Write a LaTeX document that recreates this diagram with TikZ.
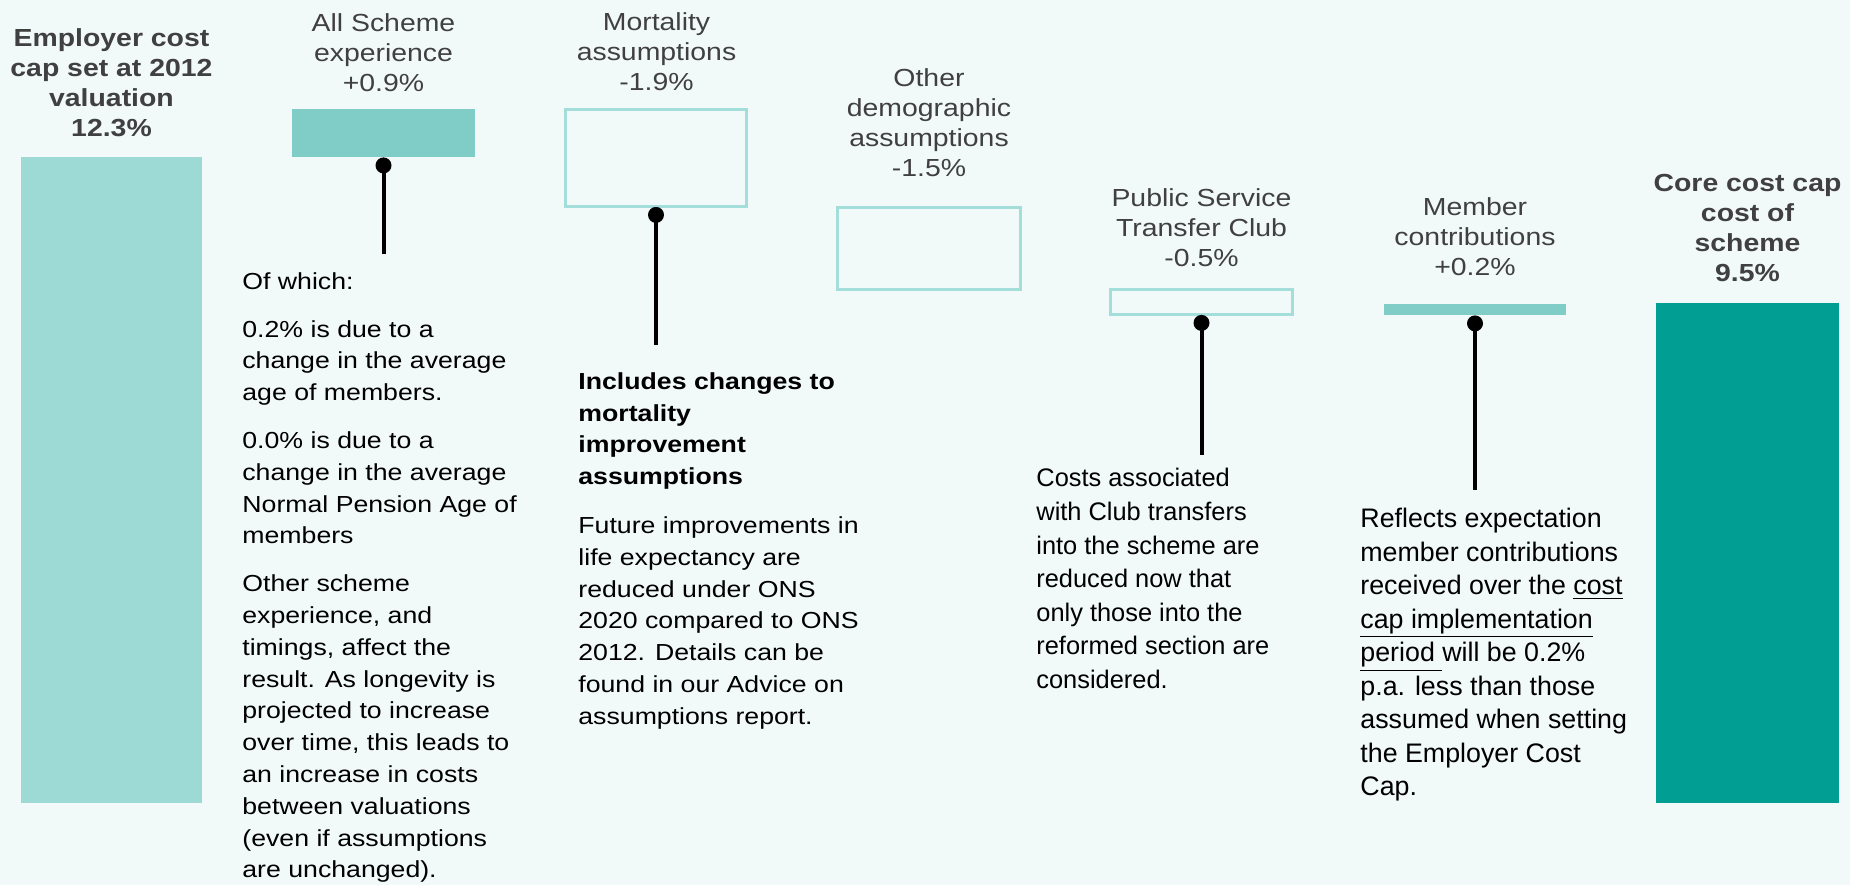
\documentclass[tikz,border=0pt]{standalone}
\usepackage{fontspec}
\setmainfont{Liberation Sans}[FakeStretch=1.15]
\newfontfamily\narrowfont{Liberation Sans}
\usetikzlibrary{positioning}

\definecolor{bgcol}{HTML}{F2FAF9}
\definecolor{capcol}{HTML}{9DDAD6}
\definecolor{stepcol}{HTML}{80CDC8}
\definecolor{edgecol}{HTML}{A3DEDA}
\definecolor{corecol}{HTML}{009E93}
\definecolor{titlecol}{HTML}{404040}

\tikzset{
  fullbar/.style={inner sep=0pt, outer sep=0pt, anchor=north west, draw=none},
  openbar/.style={inner sep=0pt, outer sep=0pt, anchor=north west, draw=edgecol, line width=1.65pt},
  pindot/.style={circle, fill=black, inner sep=0pt, minimum size=8pt},
  pinline/.style={line width=2pt},
  title/.style={align=center, inner sep=0pt, anchor=north, text=titlecol, font=\fontsize{12.35}{15}\selectfont},
  bigtitle/.style={title, font=\bfseries\fontsize{12.35}{15}\selectfont},
  note/.style={align=left, inner sep=0pt, anchor=north west, text=black, font=\fontsize{11.6}{15.9}\selectfont},
  narrownote/.style={note, font=\narrowfont\fontsize{12.7}{16.8}\selectfont}
}

\begin{document}
\begin{tikzpicture}[x=0.5pt,y=-0.5pt]
	\fill[bgcol] (0,0) rectangle (1850,885);
	\useasboundingbox (0,0) rectangle (1850,885);

	% bars
	\node[fullbar, fill=capcol, minimum width=90.5pt, minimum height=323pt] (ecc) at (21,157) {};
	\node[fullbar, fill=stepcol, minimum width=91.5pt, minimum height=24pt] (sch) at (292,109) {};
	\node[openbar, minimum width=90.5pt, minimum height=48.5pt] (mor) at (565.5,109.5) {};
	\node[openbar, minimum width=91.5pt, minimum height=41pt] (oth) at (837.5,207.5) {};
	\node[openbar, minimum width=91pt, minimum height=12.5pt] (pst) at (1110.5,289.5) {};
	\node[fullbar, fill=stepcol, minimum width=91pt, minimum height=5.5pt] (mem) at (1384,304) {};
	\node[fullbar, fill=corecol, minimum width=91.5pt, minimum height=250pt] (core) at (1656,303) {};

	% titles
	\node[bigtitle] (ecclab) at (111.5,28) {Employer cost\\cap set at 2012\\valuation\\12.3\%};
	\node[title] (schlab) at (383.5,13) {All Scheme\\experience\\+0.9\%};
	\node[title] (morlab) at (656.5,12) {Mortality\\assumptions\\-1.9\%};
	\node[title] (othlab) at (929,68) {Other\\demographic\\assumptions\\-1.5\%};
	\node[title] (pstlab) at (1201.5,188) {Public Service\\Transfer Club\\-0.5\%};
	\node[title] (memlab) at (1475,197) {Member\\contributions\\+0.2\%};
	\node[bigtitle] (corelab) at (1747.5,174) {Core cost cap\\cost of\\scheme\\9.5\%};

	% notes
	\node[note] (schtxt) at (242,272) {Of which:\\[8pt]
		0.2\% is due to a\\change in the average\\age of members.\\[8pt]
		0.0\% is due to a\\change in the average\\Normal Pension Age of\\members\\[8pt]
		Other scheme\\experience, and\\timings, affect the\\result. As longevity is\\projected to increase\\over time, this leads to\\an increase in costs\\between valuations\\(even if assumptions\\are unchanged).};
	\node[note] (mortxt) at (578,372) {\textbf{Includes changes to}\\\textbf{mortality}\\\textbf{improvement}\\\textbf{assumptions}\\[8.5pt]
		Future improvements in\\life expectancy are\\reduced under ONS\\2020 compared to ONS\\2012. Details can be\\found in our Advice on\\assumptions report.};
	\node[narrownote] (psttxt) at (1036,468) {Costs associated\\with Club transfers\\into the scheme are\\reduced now that\\only those into the\\reformed section are\\considered.};
	\node[narrownote, font=\narrowfont\fontsize{13.4}{16.75}\selectfont] (memtxt) at (1360,508) {Reflects expectation\\member contributions\\received over the \underline{cost}\\\underline{cap implementation}\\\underline{period }will be 0.2\%\\p.a. less than those\\assumed when setting\\the Employer Cost\\Cap.};

	% pins
	\node[pindot, below=0pt of sch] (schdot) {};
	\node[pindot, below=0pt of mor] (mordot) {};
	\node[pindot, below=0pt of pst] (pstdot) {};
	\node[pindot, below=0pt of mem] (memdot) {};

	\draw[pinline, shorten >=9pt] (schdot.center) -- (schdot |- schtxt.north);
	\draw[pinline, shorten >=13.5pt] (mordot.center) -- (mordot |- mortxt.north);
	\draw[pinline, shorten >=6.5pt] (pstdot.center) -- (pstdot |- psttxt.north);
	\draw[pinline, shorten >=9pt] (memdot.center) -- (memdot |- memtxt.north);
\end{tikzpicture}
\end{document}
